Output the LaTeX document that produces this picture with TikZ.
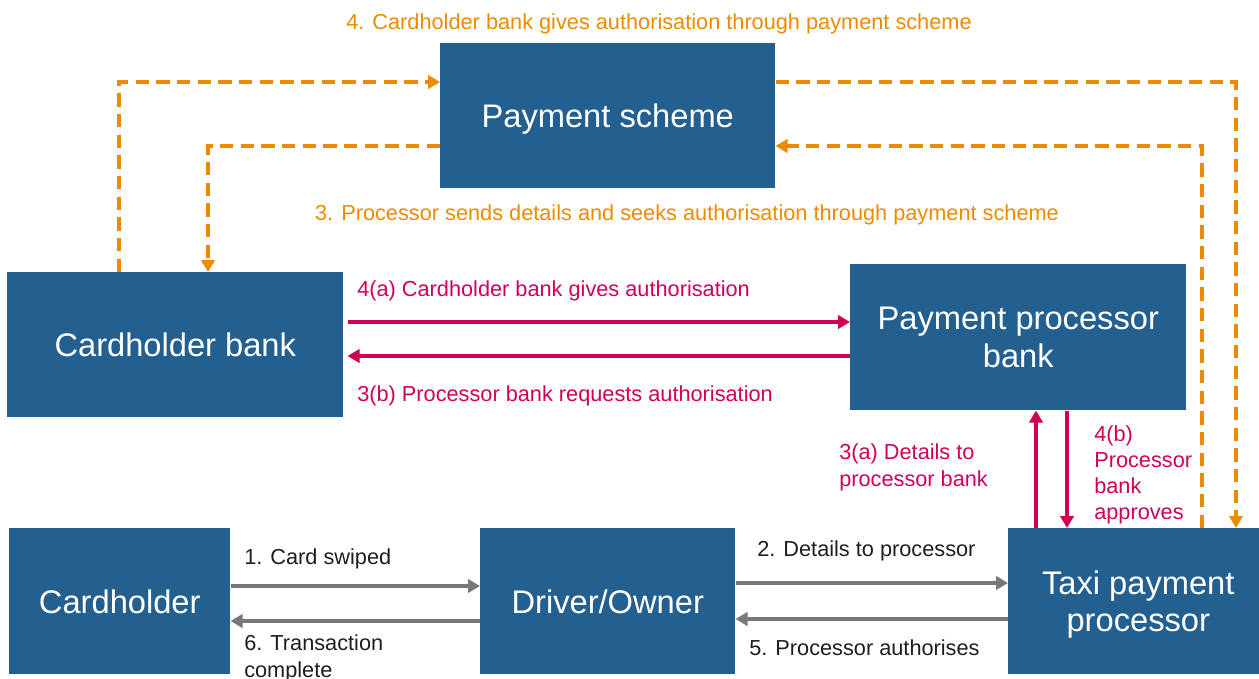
\documentclass[tikz,border=0pt]{standalone}
\usepackage{fontspec}
\setmainfont{Liberation Sans}
\usetikzlibrary{arrows.meta,calc}
\definecolor{boxblue}{RGB}{36,96,143}
\definecolor{schemeorange}{RGB}{237,139,0}
\definecolor{bankred}{RGB}{208,0,90}
\definecolor{flowgrey}{RGB}{118,120,122}
\definecolor{lbltext}{RGB}{30,30,30}
\tikzset{
  party/.style={fill=boxblue, text=white, anchor=north west, inner sep=0pt, align=center,
    text depth=-3pt, font=\fontsize{24.5}{28}\selectfont},
  lbl/.style={anchor=west, inner sep=0pt, align=left, text=lbltext, font=\fontsize{16.3}{20.25}\selectfont},
  flowtip/.style={-{Triangle[length=9pt,width=10pt]}},
  schemeflow/.style={flowtip, draw=schemeorange, line width=3pt, dash pattern=on 10pt off 5.5pt},
  bankflow/.style={flowtip, draw=bankred, line width=3pt},
  cardflow/.style={flowtip, draw=flowgrey, line width=3pt}
}
\begin{document}
\begin{tikzpicture}[x=0.75pt,y=0.75pt,yscale=-1,xscale=1]
\useasboundingbox (0,0) rectangle (1259,678);

%Shape: parties
\node[party, minimum width=251.25pt, minimum height=108.75pt] (ps) at (440,43) {Payment scheme};
\node[party, minimum width=252pt, minimum height=108.75pt] (cb) at (7,272) {Cardholder bank};
\node[party, minimum width=252pt, minimum height=109.5pt] (ppb) at (850,264) {Payment processor\\bank};
\node[party, minimum width=165.75pt, minimum height=109.5pt] (ch) at (9,528) {Cardholder};
\node[party, minimum width=191.25pt, minimum height=109.5pt] (dro) at (480,528) {Driver/Owner};
\node[party, minimum width=195pt, minimum height=109.5pt] (tpp) at (1008,528) {Taxi payment\\processor};

%Lines: through payment scheme
\draw[schemeflow] ($(cb.north west)+(112,0)$) |- ($(ps.north west)+(0,39)$);
\draw[schemeflow] ($(ps.north east)+(0,39)$) -| ($(tpp.north west)+(228,0)$);
\draw[schemeflow] ($(tpp.north west)+(194,0)$) |- ($(ps.north east)+(0,103)$);
\draw[schemeflow] ($(ps.north west)+(0,103)$) -| ($(cb.north west)+(201,0)$);

%Lines: between banks
\coordinate (a4) at ($(cb.north east)+(4,50)$);
\coordinate (a3) at ($(cb.north east)+(4,84)$);
\draw[bankflow] (a4) -- (a4 -| ppb.west);
\draw[bankflow] (a3 -| ppb.west) -- (a3);
\coordinate (up3) at ($(tpp.north west)+(28,0)$);
\coordinate (dn4) at ($(tpp.north west)+(59,0)$);
\draw[bankflow] (up3) -- (up3 |- ppb.south);
\draw[bankflow] (dn4 |- ppb.south) -- (dn4);

%Lines: card and terminal
\coordinate (g1) at ($(ch.north east)+(0,58)$);
\coordinate (g6) at ($(ch.north east)+(0,93)$);
\coordinate (g2) at ($(dro.north east)+(0,55)$);
\coordinate (g5) at ($(dro.north east)+(0,91)$);
\draw[cardflow] (g1) -- (g1 -| dro.west);
\draw[cardflow] (g6 -| dro.west) -- (g6);
\draw[cardflow] (g2) -- (g2 -| tpp.west);
\draw[cardflow] (g5 -| tpp.west) -- (g5);

% Text Node
\node[lbl, anchor=center, text=schemeorange] (t4) at (659,24) {4. Cardholder bank gives authorisation through payment scheme};
\node[lbl, anchor=center, text=schemeorange] (t3) at (687,215) {3. Processor sends details and seeks authorisation through payment scheme};
\node[lbl, text=bankred] (t4a) at (357,291) {4(a) Cardholder bank gives authorisation};
\node[lbl, text=bankred] (t3b) at (357,396) {3(b) Processor bank requests authorisation};
\node[lbl, text=bankred] (t3a) at (839,467) {3(a) Details to\\processor bank};
\node[lbl, text=bankred, font=\fontsize{16.3}{19.5}\selectfont] (t4b) at (1094,475) {4(b)\\Processor\\bank\\approves};
\node[lbl] (t1) at (244,559) {1. Card swiped};
\node[lbl] (t6) at (244,658) {6. Transaction\\complete};
\node[lbl] (t2) at (757,551) {2. Details to processor};
\node[lbl] (t5) at (749,648) {5. Processor authorises};

\end{tikzpicture}
\end{document}
